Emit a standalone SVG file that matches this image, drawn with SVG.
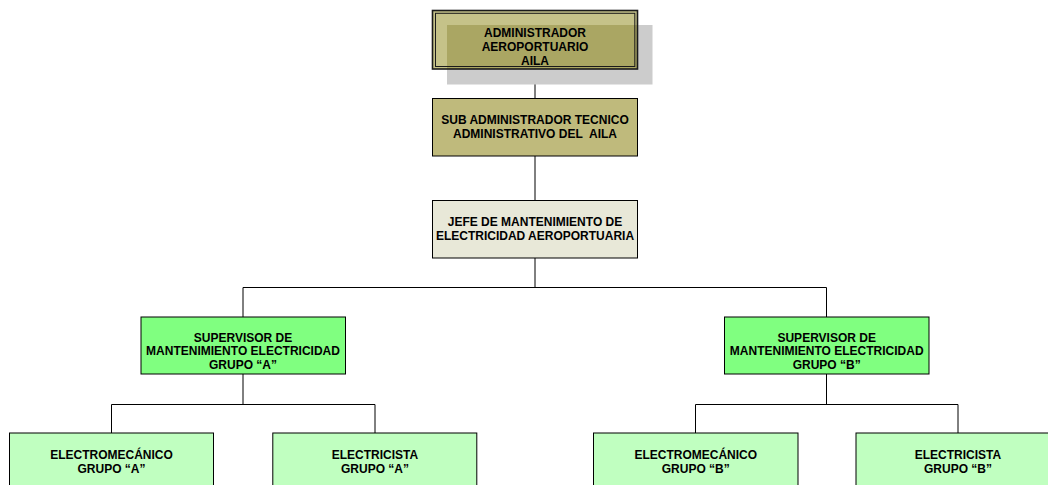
<svg xmlns="http://www.w3.org/2000/svg" width="1048" height="485" viewBox="0 0 1048 485">
<style>
.box{stroke:#000;stroke-width:1}
.t{font-family:"Liberation Sans",Arial,sans-serif;font-weight:bold;font-size:12px;fill:#000;text-anchor:middle}
.c{fill:none;stroke:#000;stroke-width:1}
</style>
<rect width="1048" height="485" fill="#fff"/>
<g id="connectors">
<path class="c" d="M535,69V98"/>
<path class="c" d="M535,156V200"/>
<path class="c" d="M535,258V287.5M243,317V287.5H826.5V317"/>
<path class="c" d="M243,374V404.5M111.5,433V404.5H375V433"/>
<path class="c" d="M826.5,374V404.5M695.5,433V404.5H958V433"/>
</g>
<g id="administrador">
<rect x="447" y="25" width="205.5" height="59.5" fill="#cccccc"/>
<rect x="432.5" y="10.5" width="205" height="58.5" fill="#c5c289"/>
<rect x="447" y="25" width="190.5" height="44" fill="#aaa663"/>
<rect x="432.5" y="10.5" width="205" height="58.5" fill="none" stroke="#1a1a1a" stroke-width="1.6"/>
<rect x="435.5" y="13.3" width="199.3" height="53.2" fill="none" stroke="#1a1a1a" stroke-width="1"/>
<text class="t" x="535" y="36.7">ADMINISTRADOR</text>
<text class="t" x="535" y="50.8">AEROPORTUARIO</text>
<text class="t" x="535" y="65">AILA</text>
</g>
<g id="subadministrador">
<rect class="box" x="432.5" y="98.5" width="205" height="57.5" fill="#bfba7c"/>
<text class="t" x="535" y="124.3">SUB ADMINISTRADOR TECNICO</text>
<text class="t" x="535" y="137.7">ADMINISTRATIVO DEL&#160; AILA</text>
</g>
<g id="jefe">
<rect class="box" x="432.5" y="200.5" width="205" height="57.5" fill="#e8e8d8"/>
<text class="t" x="535" y="226">JEFE DE MANTENIMIENTO DE</text>
<text class="t" x="535" y="240">ELECTRICIDAD AEROPORTUARIA</text>
</g>
<g id="supervisorA">
<rect class="box" x="141" y="317" width="204.5" height="57" fill="#80ff80"/>
<text class="t" x="243" y="341.6">SUPERVISOR DE</text>
<text class="t" x="243" y="355.4">MANTENIMIENTO ELECTRICIDAD</text>
<text class="t" x="243" y="369.2">GRUPO “A”</text>
</g>
<g id="supervisorB">
<rect class="box" x="724.5" y="317" width="204.5" height="57" fill="#80ff80"/>
<text class="t" x="826.7" y="341.6">SUPERVISOR DE</text>
<text class="t" x="826.7" y="355.4">MANTENIMIENTO ELECTRICIDAD</text>
<text class="t" x="826.7" y="369.2">GRUPO “B”</text>
</g>
<g id="electromecanicoA">
<rect class="box" x="9.5" y="433" width="204" height="70" fill="#c0ffc0"/>
<text class="t" x="111.5" y="459">ELECTROMECÁNICO</text>
<text class="t" x="111.5" y="472.7">GRUPO “A”</text>
</g>
<g id="electricistaA">
<rect class="box" x="272.8" y="433" width="204" height="70" fill="#c0ffc0"/>
<text class="t" x="375" y="459">ELECTRICISTA</text>
<text class="t" x="375" y="472.7">GRUPO “A”</text>
</g>
<g id="electromecanicoB">
<rect class="box" x="593.5" y="433" width="204.5" height="70" fill="#c0ffc0"/>
<text class="t" x="695.8" y="459">ELECTROMECÁNICO</text>
<text class="t" x="695.8" y="472.7">GRUPO “B”</text>
</g>
<g id="electricistaB">
<rect class="box" x="856" y="433" width="204" height="70" fill="#c0ffc0"/>
<text class="t" x="958" y="459">ELECTRICISTA</text>
<text class="t" x="958" y="472.7">GRUPO “B”</text>
</g>
</svg>
